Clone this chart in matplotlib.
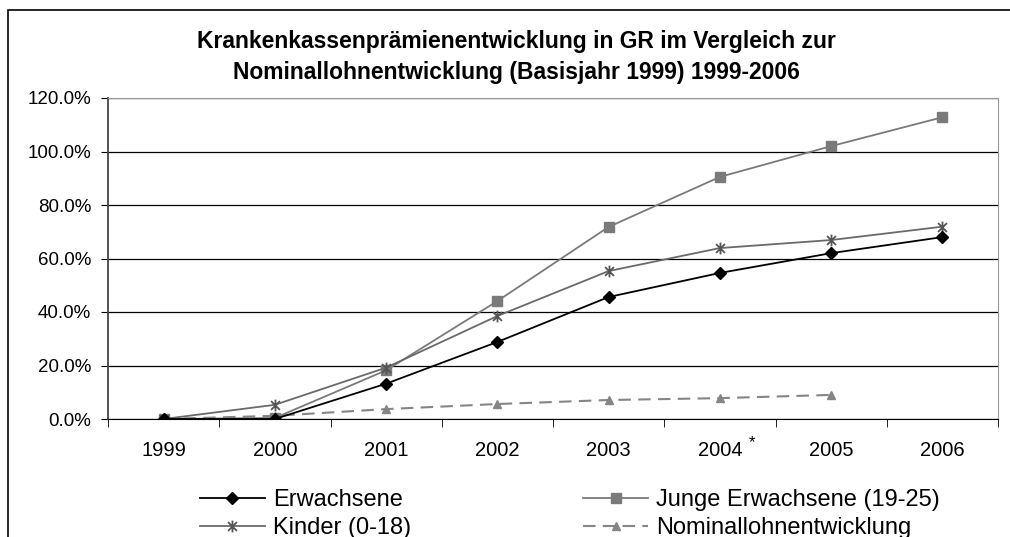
import matplotlib
matplotlib.use('Agg')
import matplotlib.pyplot as plt
from matplotlib.path import Path
from matplotlib.patches import Rectangle
import numpy as np

plt.rcParams['font.family'] = ['Liberation Sans', 'DejaVu Sans']

years = ['1999', '2000', '2001', '2002', '2003', '2004', '2005', '2006']
erwachsene = [0.0, 0.0, 13.2, 28.8, 45.6, 54.6, 62.0, 68.0]
junge = [0.0, 0.4, 18.2, 44.1, 71.8, 90.5, 102.0, 112.8]
kinder = [0.0, 5.3, 19.2, 38.5, 55.3, 63.9, 66.9, 71.9]
nominal = [0.0, 1.2, 3.7, 5.6, 7.1, 7.8, 9.0]

title = ('Krankenkassenprämienentwicklung in GR im Vergleich zur\n'
         'Nominallohnentwicklung (Basisjahr 1999) 1999-2006')

# excel-like star marker: x with a vertical bar
star = Path([(0, -1), (0, 1), (-0.75, -0.75), (0.75, 0.75), (-0.75, 0.75), (0.75, -0.75)],
            [Path.MOVETO, Path.LINETO, Path.MOVETO, Path.LINETO, Path.MOVETO, Path.LINETO])

fig = plt.figure(figsize=(10.1, 5.37), dpi=100)
# chart frame (runs off the right/bottom of the image)
fig.patches.append(Rectangle((8 / 1010, -0.1), 1.1, 1 - 10 / 537 + 0.1,
                             transform=fig.transFigure, fill=False,
                             edgecolor='black', lw=1.2))

ax = fig.add_axes([108 / 1010, 1 - 419 / 537, 890 / 1010, 321 / 537])
x = np.arange(len(years))

l1, = ax.plot(x, erwachsene, color='black', lw=1.3, marker='D', ms=6.5,
              label='Erwachsene', zorder=5)
l2, = ax.plot(x, junge, color='#7a7a7a', lw=1.3, marker='s', ms=6.5,
              label='Junge Erwachsene (19-25)', zorder=4)
l3, = ax.plot(x, kinder, color='#6a6a6a', lw=1.3, marker=star, ms=8.5,
              mew=1.3, mec='#555555', label='Kinder (0-18)', zorder=4)
l4, = ax.plot(x[:len(nominal)], nominal, color='#858585', lw=1.5,
              ls=(0, (6, 3.5)), marker='^', ms=5.5, label='Nominallohnentwicklung',
              zorder=3)

ax.set_xlim(-0.5, len(years) - 0.5)
ax.set_ylim(0, 120)
ax.set_yticks(np.arange(0, 121, 20))
ax.set_yticklabels(['%.1f%%' % v for v in np.arange(0, 121, 20)], fontsize=13.5)
ax.set_xticks(x)
ax.set_xticklabels(years, fontsize=14.5)
ax.set_xticks(np.arange(-0.5, len(years)), minor=True)
ax.tick_params(axis='x', which='major', length=0, pad=16)
ax.tick_params(axis='x', which='minor', length=6, direction='out', color='black')
ax.tick_params(axis='y', length=5, direction='out', pad=7)
ax.yaxis.grid(True, color='black', lw=0.9)
ax.set_axisbelow(True)
for s in ['top', 'right']:
    ax.spines[s].set_color('#999999')
ax.spines['left'].set_color('#444444')
ax.spines['left'].set_linewidth(1.3)
ax.spines['bottom'].set_color('black')

# footnote mark next to 2004
ax.text(5.29, -9.0, '*', fontsize=12, ha='center', va='center', clip_on=False)

fig.text(516 / 1010, 1 - 57 / 537, title, ha='center', va='center',
         fontsize=16.5, fontweight='bold', linespacing=1.45)

fig.legend(handles=[l1, l3, l2, l4], ncol=2, frameon=False, fontsize=17,
           loc='upper left', bbox_to_anchor=(200 / 1010, 1 - 489 / 537),
           borderaxespad=0, borderpad=0, handlelength=2.75, handletextpad=0.34,
           columnspacing=7.3, labelspacing=0.27)

fig.savefig('out.png', dpi=100)
